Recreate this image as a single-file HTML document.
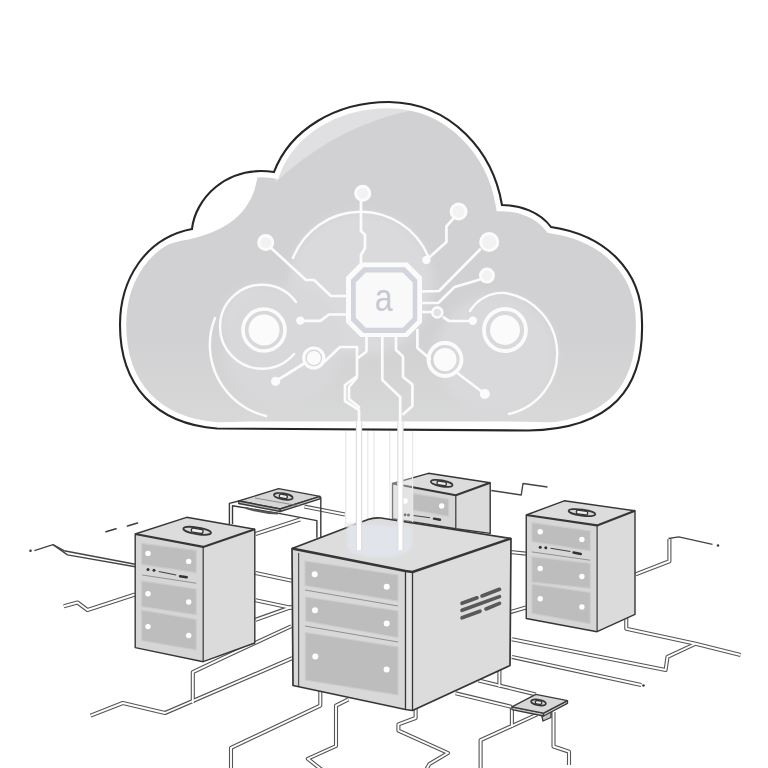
<!DOCTYPE html>
<html><head><meta charset="utf-8">
<style>
html,body{margin:0;padding:0;background:#fff;width:768px;height:768px;overflow:hidden}
svg{display:block}
</style></head><body>
<svg width="768" height="768" viewBox="0 0 768 768">
<defs>
<path id="cl" d="M 217 428.5 C 155 424, 120 385, 120 325 C 120 280, 145 238, 192 229 C 195 200, 225 165, 274 172 C 290 130, 335 102, 389 102 C 452 103, 493 152, 502 205 C 520 205, 540 212, 551 227 C 605 235, 642 270, 642 322 C 644 388, 612 429, 528 430.5 L 217 428.5 Z"/>
<clipPath id="clc"><use href="#cl"/></clipPath>
<filter id="cblur" x="-30%" y="-30%" width="160%" height="160%"><feGaussianBlur stdDeviation="5"/></filter>
<radialGradient id="gdisc" cx="0.5" cy="0.5" r="0.5">
<stop offset="0" stop-color="#dadadc" stop-opacity="0.9"/><stop offset="0.75" stop-color="#d8d8da" stop-opacity="0.5"/><stop offset="1" stop-color="#d0cfd3" stop-opacity="0"/></radialGradient>
<linearGradient id="gbot" x1="0" y1="0" x2="0" y2="1">
<stop offset="0" stop-color="#d8d8d8" stop-opacity="0"/><stop offset="1" stop-color="#d9dad9" stop-opacity="1"/></linearGradient>
</defs>
<g id="cloud">
<use href="#cl" fill="#d1d1d3"/>
<g clip-path="url(#clc)">
  <rect x="110" y="330" width="550" height="110" fill="url(#gbot)"/>
  <g filter="url(#cblur)">
  <circle cx="361" cy="284" r="72" fill="#dadadc"/>
  <circle cx="262" cy="326" r="41" fill="#dbdbdd"/>
  <circle cx="496" cy="354" r="60" fill="#d9d9db"/>
  <circle cx="283" cy="345" r="60" fill="#d8d8da"/>
  </g>
  <path d="M 262 150 L 258 170 C 256 205, 235 232, 180 241 L 140 252 L 140 150 Z" fill="#ffffff"/>
  <path d="M 276 182 C 310 150, 360 118, 425 108 L 425 80 L 260 80 Z" fill="#e0e0e2"/>
</g>
<use href="#cl" fill="none" stroke="#fff" stroke-width="12.5"/>
<g clip-path="url(#clc)"><path d="M 150 445 L 150 425 C 190 425, 215 421.5, 260 421.5 L 500 421.5 C 545 421.5, 580 424, 620 425 L 620 445 Z" fill="#fff"/></g>
<use href="#cl" fill="none" stroke="#262626" stroke-width="2.1"/>
</g>

<g id="circuit" fill="none" stroke="#fbfbfb" stroke-width="2.7" stroke-linejoin="round" stroke-linecap="round">
  <path d="M 293 258 A 73 73 0 0 1 428 256" stroke-width="2.4"/>
  <path d="M 296 302 A 42 42 0 1 0 294 354" stroke-width="2.4"/>
  <path d="M 215 318 A 73 73 0 0 0 266 416" stroke-width="2.4"/>
  <path d="M 470 311 C 478 298, 492 292, 505 293 A 61.6 61.6 0 0 1 509 414" stroke-width="2.4"/>
  <path d="M 270 247 L 306 280 L 314 280 L 331 296 L 347 296"/>
  <path d="M 300.2 320.8 L 320.3 320.8 L 329 314.5 L 347 314.5"/>
  <path d="M 276 381 L 305 363"/>
  <path d="M 322 364 L 340 347 L 357 347 L 357 376 L 345 385 L 345 401 L 359 410 L 359 432"/>
  <path d="M 366.5 336 L 366.5 351.5 L 358 358"/>
  <path d="M 357 377.3 L 349 387 L 349 399 L 359 407"/>
  <path d="M 382.3 336 L 382.3 380 L 400.2 397 L 400.2 432"/>
  <path d="M 396 336 L 396 350 L 403 356.5 L 403 377 L 412.4 384.4 L 412.4 406 L 403.5 414"/>
  <path d="M 417.4 330 L 417.4 348 L 430 358.7"/>
  <path d="M 361 200 L 361 231 L 365 235 L 365 248 L 361 255 L 361 264"/>
  <path d="M 453 219 L 446.4 226.4 L 446.4 242 L 426.4 260"/>
  <path d="M 480 249.5 L 439 291 L 420 291.5"/>
  <path d="M 480 279.5 L 454.6 287 L 438.2 303 L 420 303"/>
  <path d="M 420 312 L 432 312"/>
  <path d="M 443.7 317.5 L 449 321 L 470 321"/>
  <path d="M 456 372 L 485 394"/>
  <circle cx="362.7" cy="193.3" r="7" fill="#f2f2f3" stroke-width="3"/>
  <circle cx="458.6" cy="211.5" r="7.5" fill="#f2f2f3" stroke-width="3"/>
  <circle cx="489.2" cy="242" r="8.5" fill="#f2f2f3" stroke-width="3"/>
  <circle cx="487" cy="275.6" r="6.5" fill="#f2f2f3" stroke-width="3"/>
  <circle cx="437.3" cy="312.4" r="5" fill="#e2e2e3" stroke-width="2.6"/>
  <circle cx="265.7" cy="242.5" r="7" fill="#f2f2f3" stroke-width="3"/>
  <circle cx="264" cy="330" r="21" stroke-width="3.6"/>
  <circle cx="505" cy="330" r="21" stroke-width="3.8"/>
  <circle cx="313.8" cy="358" r="10" stroke-width="3.2"/>
  <circle cx="445" cy="359.5" r="16.5" stroke-width="3.8"/>
</g>
<g fill="#fbfbfb">
  <circle cx="264" cy="330" r="15.5"/>
  <circle cx="505" cy="330" r="15"/>
  <circle cx="313.8" cy="358" r="7"/>
  <circle cx="445" cy="359.5" r="11.5"/>
  <circle cx="426.4" cy="260" r="4.2"/>
  <circle cx="472.8" cy="320.8" r="4.2"/>
  <circle cx="300.3" cy="320.6" r="4.2"/>
  <circle cx="275.6" cy="381.3" r="4.6"/>
  <circle cx="484.8" cy="394" r="5"/>
</g>

<g id="chip">
  <polygon points="360.5,262.6 407.5,262.6 422,277.1 422,322.5 407.5,337 360.5,337 346,322.5 346,277.1" fill="#fbfbfb"/>
  <polygon points="363.5,267.3 404.8,267.3 417.3,279.8 417.3,320.5 404.8,333 363.5,333 351,320.5 351,279.8" fill="#d3d5dc"/>
  <polygon points="365.8,272.6 402.7,272.6 412.7,282.6 412.7,317.7 402.7,327.7 365.8,327.7 355.8,317.7 355.8,282.6" fill="#f9f9fa"/>
  <text x="0" y="0" transform="translate(383.6 310.8) scale(0.82 1)" font-family="Liberation Sans, sans-serif" font-size="39" fill="#c6c9d1" text-anchor="middle">a</text>
</g>

<defs><g id="net">
  <path d="M 63.75 606.25 L 77.5 602.5 L 87.5 610 L 135 594.5"/>
  <path d="M 90.6 715.6 L 122.8 703 L 165 713 L 292.3 658.2"/>
  <path d="M 192.8 703 L 192.8 672.2 L 225 656.8 L 291.25 626.25"/>
  <path d="M 320.3 690 L 320.3 705.6 L 231 747.8 L 231 770"/>
  <path d="M 348.4 699.4 L 336 705.6 L 336 746 L 307.8 758.75 L 322 770"/>
  <path d="M 415.6 708 L 415.6 718 L 398.4 724.4 L 398.4 730.6 L 448 753 L 429.4 764 L 426 770"/>
  <path d="M 255.5 573 L 292 580.7"/>
  <path d="M 255.5 600.3 L 292 608"/>
  <path d="M 255.5 619.8 L 292 606.8"/>
  <path d="M 255.5 534 L 300 519.5"/>
  <path d="M 304.4 506.6 L 345 514.5"/>
  <path d="M 635.6 574.4 L 669.4 561.25 L 669.4 539"/>
  <path d="M 626.25 612 L 626.25 628.75 L 695.6 643.75 L 740.6 655"/>
  <path d="M 511.9 639.25 L 665.6 670 L 667.5 656.9 L 695.6 643.75"/>
  <path d="M 511.9 656.9 L 641.25 685"/>
  <path d="M 510 552 L 526 553.6"/>
  <path d="M 510 612.2 L 526 607.5"/>
  <path d="M 499.4 664 L 499.4 687"/>
  <path d="M 478.5 680.5 L 535.8 694.4"/>
  <path d="M 455.6 693.3 L 511.9 706.9"/>
  <path d="M 537 714.5 L 480.6 740.2 L 480.6 770"/>
  <path d="M 511.9 707 L 511.9 727"/>
  <path d="M 553.5 712 L 553.5 746.5 L 569 751.7 L 569 765"/>
</g></defs>
<use href="#net" fill="none" stroke="#555555" stroke-width="4.1" stroke-linejoin="round"/>
<use href="#net" fill="none" stroke="#ffffff" stroke-width="1.9" stroke-linejoin="round"/>
<g fill="none" stroke="#444" stroke-width="1.4" stroke-linejoin="round">
  <path d="M 491.25 490.5 L 521.25 495 L 523 483.5 L 547.5 487"/>
  <path d="M 668.5 538.5 L 678.75 536.9 L 712.5 544.4"/>
  <path d="M 34.4 550.7 L 53 544.7 L 64 550.7 L 135.3 564.2"/>
  <path d="M 53 544.7 L 67.5 554.9 L 135.3 566.8"/>
</g>
<g stroke="#3c3c3c" stroke-width="1.6" stroke-linecap="round">
  <line x1="106" y1="531.75" x2="116" y2="528.75"/>
  <line x1="127.5" y1="526" x2="137.5" y2="523"/>
</g>
<g fill="#3c3c3c">
  <circle cx="30.5" cy="550.75" r="1.3"/>
  <circle cx="718" cy="545.5" r="1.3"/>
  <circle cx="643.5" cy="685.5" r="1.3"/>
</g>

<g id="plat1" stroke="#3a3a3a" stroke-width="1.4" stroke-linejoin="round" fill="none">
  <path d="M 229.4 524 L 229.4 503.4 L 238.75 501"/>
  <path d="M 232.5 524 L 232.5 505.8 L 280.2 513.6 L 316.9 520.6 L 316.9 537.8"/>
  <path d="M 320.8 537 L 320.8 497"/>
  <path d="M 246 508 Q 262 513 278 513.5" stroke-width="2.2" stroke="#555"/>
  <polygon points="238.75,501 278.6,488.6 320,496.4 280.2,509" fill="#d6d6d6"/>
  <polygon points="238.75,501 280.2,509 280.2,511.5 238.75,503.5" fill="#bdbdbd"/>
  <polygon points="280.2,509 320,496.4 320,498.9 280.2,511.5" fill="#c8c8c8"/>
  <line x1="255" y1="498" x2="300" y2="506" stroke="#777" stroke-width="0.8"/>
</g>
<g transform="translate(283.3 496.4) rotate(10)"><ellipse cx="0" cy="0" rx="9.5" ry="3" fill="#d9d9d9" stroke="#363636" stroke-width="1.7"/><rect x="-3.9899999999999998" y="-1.8599999999999999" width="7.9799999999999995" height="3.7199999999999998" rx="1.5" fill="#efefef" stroke="#363636" stroke-width="1.4"/></g>

<g id="srvB"><polygon points="455.8,495.2 490.2,482.7 490.2,533.4 455.8,528.75" fill="#dbdbdb"/>
<polygon points="392.5,483.5 455.8,495.2 455.8,528.75 392.5,518.6" fill="#d6d6d6"/>
<polygon points="392.5,483.5 428.4,473.3 490.2,482.7 455.8,495.2" fill="#dcdcdc"/>
<polygon points="412.8,493.6 448.75,499 448.75,516.25 412.8,510" fill="#bdbdbd" stroke="#cbcbcb" stroke-width="1.2"/>
<circle cx="405" cy="501" r="2.7" fill="#fff"/>
<circle cx="441.7" cy="506" r="2.7" fill="#fff"/>
<circle cx="405" cy="514.7" r="1.5" fill="#333"/>
<circle cx="408.5" cy="515" r="1.5" fill="#333"/>
<line x1="413.6" y1="515.5" x2="430" y2="517.8" stroke="#444" stroke-width="1.1"/>
<line x1="434" y1="518.6" x2="440" y2="519.7" stroke="#333" stroke-width="2.4" stroke-linecap="round"/>
<path d="M 392.5 483.5 L 428.4 473.3 L 490.2 482.7 L 490.2 533.4 L 455.8 528.75 L 392.5 518.6 Z" fill="none" stroke="#363636" stroke-width="1.4" stroke-linejoin="round"/>
<path d="M 392.5 483.5 L 455.8 495.2 L 490.2 482.7" fill="none" stroke="#363636" stroke-width="2.1" stroke-linejoin="round"/>
<path d="M 455.8 495.2 L 455.8 528.75" fill="none" stroke="#363636" stroke-width="1.2"/>
<g transform="translate(441.7 483.4) rotate(10)"><ellipse cx="0" cy="0" rx="11" ry="3" fill="#d9d9d9" stroke="#363636" stroke-width="1.7"/><rect x="-4.62" y="-1.8599999999999999" width="9.24" height="3.7199999999999998" rx="1.5" fill="#efefef" stroke="#363636" stroke-width="1.4"/></g></g>
<g id="beams">
  <rect x="345" y="431" width="68" height="115" fill="#ffffff" fill-opacity="0.35"/>
  <g stroke="#e9e9eb" stroke-width="1.2">
    <line x1="345.8" y1="431" x2="345.8" y2="550"/>
    <line x1="367.8" y1="431" x2="367.8" y2="550"/>
    <line x1="374" y1="431" x2="374" y2="550"/>
    <line x1="389.8" y1="431" x2="389.8" y2="550"/>
    <line x1="412.6" y1="431" x2="412.6" y2="550"/>
  </g>
  <rect x="355.8" y="422" width="6.4" height="128" fill="#dedee0"/>
  <rect x="357" y="422" width="4" height="128" fill="#ffffff"/>
  <rect x="397.2" y="422" width="6.4" height="128" fill="#dedee0"/>
  <rect x="398.4" y="422" width="4" height="128" fill="#ffffff"/>
</g>

<g id="srvL"><polygon points="203.2,546.9 254.8,529.3 254.8,643 203.2,661.7" fill="#dbdbdb"/>
<polygon points="135.2,534 203.2,546.9 203.2,661.7 135.2,647.6" fill="#d6d6d6"/>
<polygon points="135.2,534 186.6,517.3 254.8,529.3 203.2,546.9" fill="#dcdcdc"/>
<polygon points="141.6,543.4 196.2,550.4 196.2,572.7 141.6,564.4" fill="#bdbdbd" stroke="#cbcbcb" stroke-width="1.2"/>
<polygon points="141.6,580.9 196.2,589 196.2,614.8 141.6,606.6" fill="#bdbdbd" stroke="#cbcbcb" stroke-width="1.2"/>
<polygon points="141.6,610.1 196.2,619.5 196.2,650 141.6,640.6" fill="#bdbdbd" stroke="#cbcbcb" stroke-width="1.2"/>
<line x1="142.3" y1="575" x2="196.2" y2="583.2" stroke="#8a8a8a" stroke-width="0.9"/>
<circle cx="148" cy="553.4" r="2.7" fill="#fff"/>
<circle cx="188.7" cy="561.4" r="2.7" fill="#fff"/>
<circle cx="148" cy="593.7" r="2.7" fill="#fff"/>
<circle cx="188.7" cy="602" r="2.7" fill="#fff"/>
<circle cx="148" cy="626.6" r="2.7" fill="#fff"/>
<circle cx="188.7" cy="635.5" r="2.7" fill="#fff"/>
<circle cx="148" cy="569.6" r="1.5" fill="#333"/>
<circle cx="154" cy="570.3" r="1.5" fill="#333"/>
<line x1="158.7" y1="571.5" x2="176.2" y2="575" stroke="#444" stroke-width="1.1"/>
<line x1="180" y1="576.2" x2="186.8" y2="577.3" stroke="#333" stroke-width="2.4" stroke-linecap="round"/>
<path d="M 135.2 534 L 186.6 517.3 L 254.8 529.3 L 254.8 643 L 203.2 661.7 L 135.2 647.6 Z" fill="none" stroke="#363636" stroke-width="1.4" stroke-linejoin="round"/>
<path d="M 135.2 534 L 203.2 546.9 L 254.8 529.3" fill="none" stroke="#363636" stroke-width="2.1" stroke-linejoin="round"/>
<path d="M 203.2 546.9 L 203.2 661.7" fill="none" stroke="#363636" stroke-width="1.2"/>
<g transform="translate(197.2 530.8) rotate(9)"><ellipse cx="0" cy="0" rx="14" ry="3.3" fill="#d9d9d9" stroke="#363636" stroke-width="1.7"/><rect x="-5.88" y="-2.046" width="11.76" height="4.092" rx="1.65" fill="#efefef" stroke="#363636" stroke-width="1.4"/></g></g>
<g id="srvR"><polygon points="597.1,525.4 635,510.8 635,614.4 597.1,631.7" fill="#dbdbdb"/>
<polygon points="526.25,515 597.1,525.4 597.1,631.7 526.25,618.5" fill="#d6d6d6"/>
<polygon points="526.25,515 564.2,500.8 635,510.8 597.1,525.4" fill="#dcdcdc"/>
<polygon points="531.9,522.7 590.2,531 590.2,550.8 531.9,541.5" fill="#bdbdbd" stroke="#cbcbcb" stroke-width="1.2"/>
<polygon points="531.9,556.7 590.2,563.3 590.2,588.3 531.9,582" fill="#bdbdbd" stroke="#cbcbcb" stroke-width="1.2"/>
<polygon points="531.9,584.2 590.2,592.5 590.2,623.75 531.9,613.3" fill="#bdbdbd" stroke="#cbcbcb" stroke-width="1.2"/>
<line x1="531.9" y1="551.9" x2="590.2" y2="560.2" stroke="#8a8a8a" stroke-width="0.9"/>
<circle cx="540.2" cy="531.7" r="2.7" fill="#fff"/>
<circle cx="581.9" cy="539.4" r="2.7" fill="#fff"/>
<circle cx="540.2" cy="568.5" r="2.7" fill="#fff"/>
<circle cx="581.9" cy="576.5" r="2.7" fill="#fff"/>
<circle cx="540.2" cy="598.75" r="2.7" fill="#fff"/>
<circle cx="581.9" cy="607" r="2.7" fill="#fff"/>
<circle cx="540.2" cy="547.3" r="1.5" fill="#333"/>
<circle cx="545.8" cy="547.7" r="1.5" fill="#333"/>
<line x1="550.6" y1="548.3" x2="570.4" y2="551.5" stroke="#444" stroke-width="1.1"/>
<line x1="573.5" y1="552.5" x2="580.8" y2="554" stroke="#333" stroke-width="2.4" stroke-linecap="round"/>
<path d="M 526.25 515 L 564.2 500.8 L 635 510.8 L 635 614.4 L 597.1 631.7 L 526.25 618.5 Z" fill="none" stroke="#363636" stroke-width="1.4" stroke-linejoin="round"/>
<path d="M 526.25 515 L 597.1 525.4 L 635 510.8" fill="none" stroke="#363636" stroke-width="2.1" stroke-linejoin="round"/>
<path d="M 597.1 525.4 L 597.1 631.7" fill="none" stroke="#363636" stroke-width="1.2"/>
<g transform="translate(582 512.6) rotate(8)"><ellipse cx="0" cy="0" rx="13.5" ry="3.0" fill="#d9d9d9" stroke="#363636" stroke-width="1.7"/><rect x="-5.67" y="-1.8599999999999999" width="11.34" height="3.7199999999999998" rx="1.5" fill="#efefef" stroke="#363636" stroke-width="1.4"/></g></g>
<g id="srvM">
  <polygon points="412.5,572 511,538.5 510,665.5 412.5,710.5" fill="#dcdcdc"/>
  <polygon points="405.5,571 412.5,572 412.5,710.5 405.5,709.5" fill="#e3e3e3"/>
  <polygon points="292,548.5 405.5,571 405.5,709.5 293,685.5" fill="#d8d8d8"/>
  <path d="M 292 548.5 L 368 519.5 Q 374 517.2 381 518 L 511 538.5 L 412.5 572 L 405.5 571 Z" fill="#dddddd"/>
  <g fill="#bdbdbd" stroke="#cbcbcb" stroke-width="1.2">
    <polygon points="305,561 398,575 398,601 305,585.5"/>
    <polygon points="305.6,597 398,611 398,637.5 305.6,621"/>
    <polygon points="305.3,632.5 398,647 398,695 305.3,680"/>
  </g>
  <line x1="305" y1="590" x2="398" y2="606" stroke="#888" stroke-width="0.9"/>
  <line x1="305" y1="626" x2="398" y2="642" stroke="#888" stroke-width="0.9"/>
  <g fill="#fff">
    <circle cx="314.7" cy="574.3" r="3"/><circle cx="386.7" cy="586.8" r="3"/>
    <circle cx="315" cy="610.2" r="3"/><circle cx="386.7" cy="623.5" r="3"/>
    <circle cx="315.3" cy="656.6" r="3"/><circle cx="386.6" cy="669.4" r="3"/>
  </g>
  <g stroke="#595959" stroke-width="3.6" stroke-linecap="round">
    <line x1="462" y1="603.3" x2="477" y2="597.8"/>
    <line x1="482" y1="596" x2="499.5" y2="589.3"/>
    <line x1="462" y1="610.3" x2="499.5" y2="596.6"/>
    <line x1="486" y1="609" x2="499.5" y2="603.3"/>
    <line x1="462" y1="617.8" x2="480" y2="611.2"/>
  </g>
  <line x1="298.7" y1="553" x2="298.7" y2="687" stroke="#363636" stroke-width="1"/>
  <path d="M 292 548.5 L 368 519.5 Q 374 517.2 381 518 L 511 538.5 L 510 665.5 L 412.5 710.5 L 405.5 709.5 L 293 685.5 Z" fill="none" stroke="#363636" stroke-width="1.7" stroke-linejoin="round"/>
  <path d="M 292 548.5 L 405.5 571 L 412.5 572 L 511 538.5" fill="none" stroke="#363636" stroke-width="2.4" stroke-linejoin="round"/>
  <path d="M 405.5 571 L 405.5 709.5 M 412.5 572 L 412.5 710.5" fill="none" stroke="#363636" stroke-width="1.3"/>
</g>
<defs><filter id="blur1" x="-20%" y="-20%" width="140%" height="140%"><feGaussianBlur stdDeviation="1.6"/></filter></defs>
<path d="M 347 523 L 412 527 L 412 546 A 32.5 11 0 0 1 347 546 Z" fill="#e1e4eb" filter="url(#blur1)"/>
<g>
  <rect x="355.8" y="520" width="6.4" height="30" fill="#dedee0"/>
  <rect x="357" y="520" width="4" height="30" fill="#ffffff"/>
  <rect x="397.2" y="520" width="6.4" height="30" fill="#dedee0"/>
  <rect x="398.4" y="520" width="4" height="30" fill="#ffffff"/>
</g>

<g id="plat2" stroke="#3a3a3a" stroke-width="1.3" stroke-linejoin="round">
  <polygon points="541,712.5 543,721 551,717.5 551,709" fill="#c4c4c4"/>
  <polygon points="511.9,706.9 543.5,713.2 543.5,716 511.9,709.6" fill="#c6c6c6"/>
  <polygon points="543.5,713.2 567.5,700.6 567.5,703.4 543.5,716" fill="#cdcdcd"/>
  <polygon points="511.9,706.9 535.8,694.4 567.5,700.6 543.5,713.2" fill="#d8d8d8"/>
</g>
<g transform="translate(538.5 702.5) rotate(10)"><ellipse cx="0" cy="0" rx="7.5" ry="2.8" fill="#d9d9d9" stroke="#363636" stroke-width="1.7"/><rect x="-3.15" y="-1.736" width="6.3" height="3.472" rx="1.4" fill="#efefef" stroke="#363636" stroke-width="1.4"/></g>

</svg>
</body></html>
